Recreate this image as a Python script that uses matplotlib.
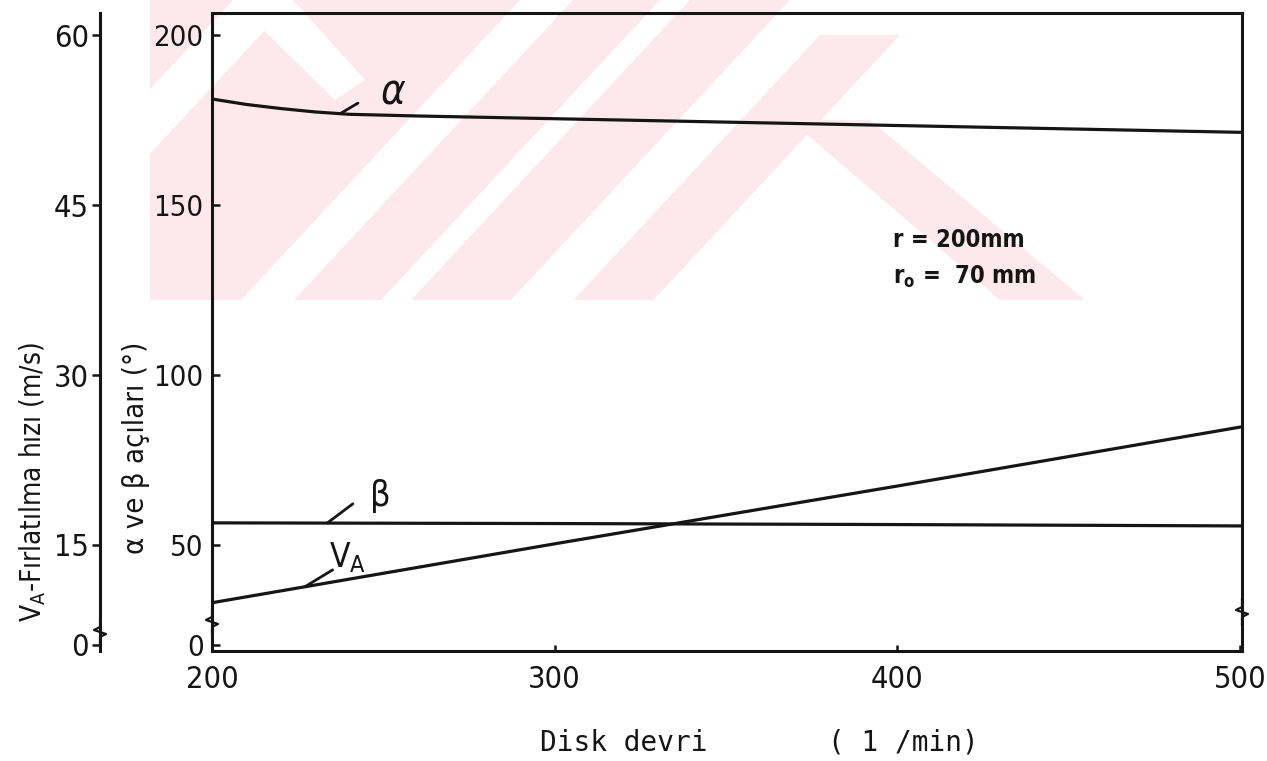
import numpy as np
import matplotlib.pyplot as plt
from matplotlib.patches import Polygon, Rectangle

plt.rcParams['font.family'] = ['DejaVu Sans']
plt.rcParams['font.stretch'] = 'condensed'

# disk speed (1/min) and the curves
rpm = [200, 210, 220, 230, 240, 260, 300, 350, 400, 450, 500]
alpha = [181.2, 179.6, 178.4, 177.4, 176.7, 176.2, 175.4, 174.4, 173.4, 172.4, 171.4]
rpm_b = [200, 300, 400, 500]
beta = [56.5, 56.3, 56.0, 55.6]
rpm_v = [200, 300, 400, 500]
va = [9.9, 15.1, 20.2, 25.4]

x_ticks = [200, 300, 400, 500]
angle_ticks = [0, 50, 100, 150, 200]
va_ticks = [0, 15, 30, 45, 60]

W, H = 1267, 761
ink = '#151515'
pink = '#fde9ed'


def fx(x):
    return x / W


def fy(y):
    return 1 - y / H


def broken_scale(k):
    # axis is broken just above zero: 0..B squeezed into a short stub
    A, B = 20.6 * k, 28.0 * k

    def fwd(v):
        v = np.asarray(v, float)
        return np.where(v >= B, v, A + v * (B - A) / B)

    def inv(u):
        u = np.asarray(u, float)
        return np.where(u >= B, u, (u - A) * B / (B - A))
    return fwd, inv


fig = plt.figure(figsize=(W / 100, H / 100), dpi=100)

# faint watermark behind the chart
clip = Rectangle((fx(150), fy(300)), fx(1267 - 150), 300 / H,
                 transform=fig.transFigure, visible=False)
fig.add_artist(clip)


def px_poly(pts, color):
    p = Polygon([(fx(x), fy(y)) for x, y in pts], closed=True,
                transform=fig.transFigure, facecolor=color, edgecolor='none',
                zorder=-5)
    fig.add_artist(p)
    p.set_clip_path(clip)


def slash(x0, x1, y0=0, y1=300):
    s = 0.93 * (y1 - y0)
    return [(x0, y0), (x1, y0), (x1 - s, y1), (x0 - s, y1)]


for a, b, top in [(120, 233, 0), (293, 520, 0), (573, 660, 0), (690, 790, 0), (820, 900, 35)]:
    px_poly(slash(a, b, top), pink)
px_poly([(790, 120), (870, 120), (1085, 300), (1000, 300)], pink)
px_poly([(233, 0), (293, 0), (365, 80), (335, 100)], 'white')

ax = fig.add_axes([fx(212), fy(651), (1242 - 212) / W, (651 - 13) / H])
ax.patch.set_visible(False)
ax.set_yscale('function', functions=broken_scale(1.0))
ax.set_xlim(200, 500.6)
ax.set_ylim(-6.8, 206.5)

ax.plot(rpm, alpha, color=ink, lw=2.3)
ax.plot(rpm_b, beta, color=ink, lw=2.3)

ax2 = ax.twinx()
ax2.set_yscale('function', functions=broken_scale(0.3))
ax2.set_ylim(-6.8 * 0.3, 206.5 * 0.3)
ax2.plot(rpm_v, va, color=ink, lw=2.3)

for s in ax.spines.values():
    s.set_linewidth(2.2)
    s.set_color(ink)
for name in ['right', 'top', 'bottom']:
    ax2.spines[name].set_visible(False)
ax2.spines['left'].set_position(('axes', -112 / 1030))
ax2.spines['left'].set_linewidth(2.2)
ax2.spines['left'].set_color(ink)
ax2.yaxis.tick_left()

ax.set_xticks(x_ticks)
ax.set_yticks(angle_ticks)
ax2.set_yticks(va_ticks)
ax.tick_params(axis='x', direction='in', length=4, width=1.8, pad=10,
               labelsize=22, colors=ink)
ax.tick_params(axis='y', direction='in', length=6, width=1.8, pad=6,
               labelsize=21, colors=ink)
ax2.tick_params(axis='y', direction='out', length=6, width=1.8, pad=2,
                labelsize=22, colors=ink)

# curve labels with leader strokes
lead = dict(arrowstyle='-', lw=2.0, color=ink, shrinkA=0, shrinkB=0)
ax.annotate('', xy=(237.4, np.interp(237.4, rpm, alpha)), xytext=(242.6, 180.0),
            arrowprops=lead)
ax.text(253, 183, 'α', fontsize=30, ha='center', va='center', color=ink,
        style='italic')
ax.annotate('', xy=(233.6, np.interp(233.6, rpm_b, beta)), xytext=(241.1, 62.1),
            arrowprops=lead)
ax.text(249, 64.5, 'β', fontsize=26, ha='center', va='center', color=ink)
ax2.annotate('', xy=(227.1, np.interp(227.1, rpm_v, va)), xytext=(235.2, 12.8),
             arrowprops=lead)
ax2.text(239.6, 13.9, r'$\mathregular{V_A}$', fontsize=24, ha='center',
         va='center', color=ink)

ax.text(398.8, 139.7, 'r = 200mm', fontsize=17, fontweight='bold',
        ha='left', va='center', color=ink)
ax.text(398.8, 128.8, r'r$_\mathregular{o}$ =  70 mm', fontsize=17,
        fontweight='bold', ha='left', va='center', color=ink)

# axis titles
fig.text(fx(136), fy(448), 'α ve β açıları (°)', rotation=90, fontsize=21,
         ha='center', va='center', color=ink)
fig.text(fx(33), fy(482), r'$\mathregular{V_A}$-Fırlatılma hızı (m/s)',
         rotation=90, fontsize=20, ha='center', va='center', color=ink)
fig.text(fx(540), fy(743), 'Disk devri', fontsize=20, family='DejaVu Sans Mono',
         ha='left', va='center', color=ink)
fig.text(fx(828), fy(743), '( 1 /min)', fontsize=20, family='DejaVu Sans Mono',
         ha='left', va='center', color=ink)


# small break marks on the vertical axes
def squiggle(x, y):
    xs = [x, x, x - 6, x + 6, x, x]
    ys = [y - 12, y - 5, y - 2, y + 2, y + 5, y + 12]
    fig.add_artist(plt.Line2D([fx(v) for v in xs], [fy(v) for v in ys],
                              transform=fig.transFigure, color=ink, lw=1.6))


squiggle(212, 622)
squiggle(1242, 612)
squiggle(100, 632)

fig.savefig('out.png', dpi=100)
